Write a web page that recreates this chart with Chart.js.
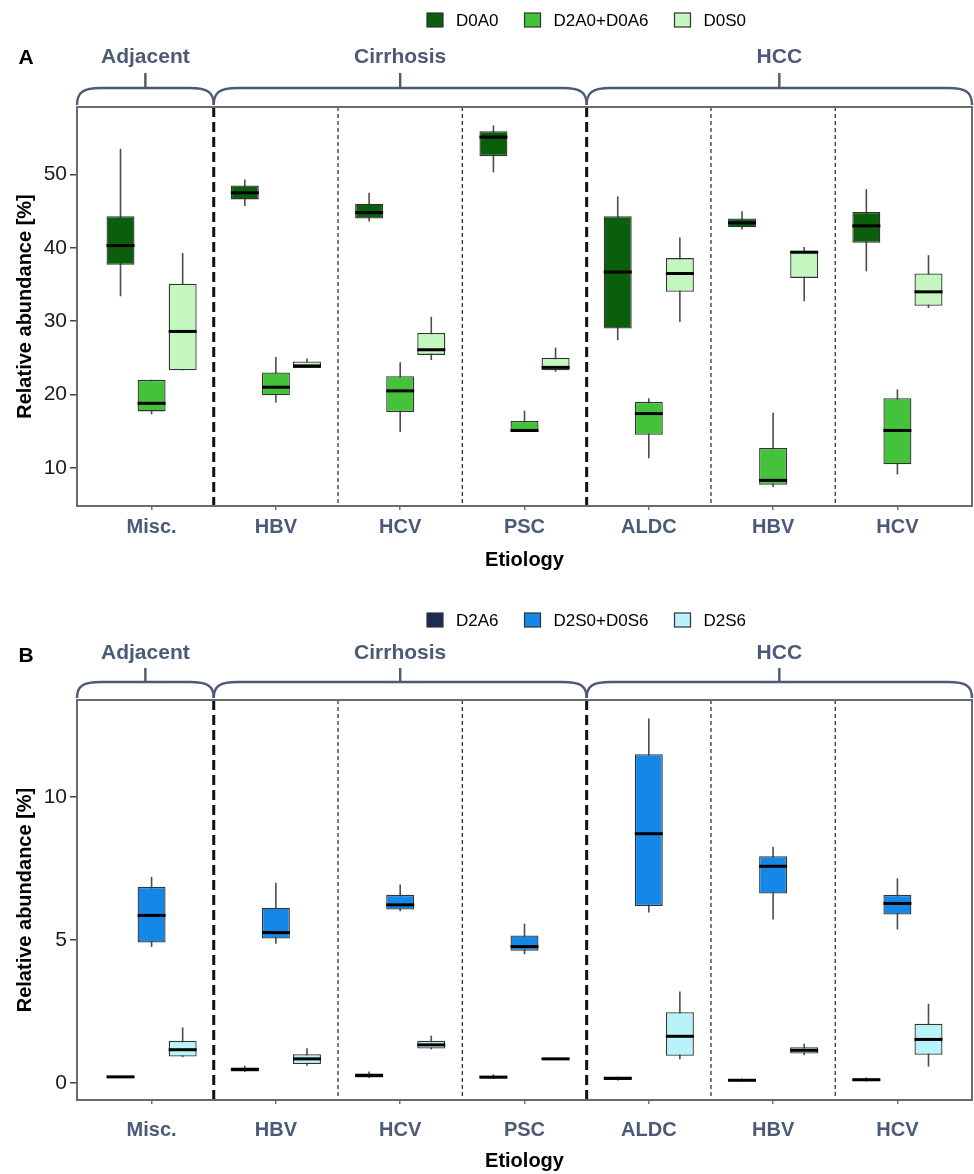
<!DOCTYPE html>
<html>
<head>
<meta charset="utf-8">
<title>Relative abundance by etiology</title>
<script src="https://cdn.jsdelivr.net/npm/chart.js@4.4.1/dist/chart.umd.min.js"></script>
<style>
  html, body { margin: 0; padding: 0; background: #fff; }
  #wrap { position: relative; width: 974px; height: 1174px; }
  canvas { position: absolute; left: 0; display: block; }
</style>
</head>
<body>
<div id="wrap">
  <canvas id="chartA" width="974" height="593" style="top:0"></canvas>
  <canvas id="chartB" width="974" height="581" style="top:593px"></canvas>
</div>
<script>
const categories = ['Misc.', 'HBV', 'HCV', 'PSC', 'ALDC', 'HBV', 'HCV'];
const groups = ['Adjacent', 'Cirrhosis', 'HCC'];
// first and last category (1-based) of each group
const groupSpans = [[1, 1], [2, 4], [5, 7]];

// each entry: [min, q1, median, q3, max]
const d0a0 = [
  [33.4, 37.7, 40.3, 44.3, 53.5],
  [45.7, 46.6, 47.5, 48.5, 49.3],
  [43.6, 44.0, 44.8, 46.0, 47.5],
  [50.3, 52.5, 55.1, 55.9, 56.7],
  [27.4, 29.0, 36.7, 44.3, 47.0],
  [42.5, 42.8, 43.4, 44.0, 45.0],
  [36.8, 40.7, 43.0, 44.9, 48.0]
];
const d2a0_d0a6 = [
  [17.3, 17.7, 18.8, 22.0, 22.0],
  [18.9, 19.9, 21.0, 23.0, 25.1],
  [14.9, 17.6, 20.5, 22.5, 24.4],
  [14.9, 14.9, 15.1, 16.4, 17.8],
  [11.3, 14.5, 17.4, 19.0, 19.5],
  [7.4, 7.7, 8.3, 12.7, 17.5],
  [9.1, 10.5, 15.1, 19.5, 20.7]
];
const d0s0 = [
  [23.3, 23.3, 28.6, 35.1, 39.3],
  [23.6, 23.6, 23.9, 24.5, 24.9],
  [24.7, 25.4, 26.1, 28.4, 30.6],
  [23.1, 23.3, 23.7, 25.0, 26.4],
  [29.9, 34.0, 36.5, 38.6, 41.4],
  [32.7, 35.9, 39.4, 39.6, 40.1],
  [31.8, 32.1, 34.0, 36.5, 39.0]
];

const d2a6 = [
  [0.18, 0.20, 0.21, 0.23, 0.24],
  [0.38, 0.40, 0.47, 0.54, 0.60],
  [0.17, 0.19, 0.26, 0.33, 0.40],
  [0.14, 0.15, 0.20, 0.25, 0.30],
  [0.08, 0.10, 0.16, 0.21, 0.22],
  [0.06, 0.07, 0.09, 0.10, 0.15],
  [0.05, 0.06, 0.11, 0.15, 0.19]
];
const d2s0_d0s6 = [
  [4.76, 4.91, 5.86, 6.86, 7.21],
  [4.87, 5.05, 5.26, 6.13, 7.00],
  [6.01, 6.07, 6.23, 6.58, 6.94],
  [4.50, 4.62, 4.77, 5.16, 5.57],
  [5.96, 6.19, 8.72, 11.50, 12.75],
  [5.72, 6.63, 7.58, 7.93, 8.26],
  [5.37, 5.89, 6.28, 6.58, 7.16]
];
const d2s6 = [
  [0.90, 0.92, 1.16, 1.47, 1.94],
  [0.60, 0.66, 0.84, 1.00, 1.21],
  [1.17, 1.20, 1.33, 1.47, 1.65],
  [0.80, 0.80, 0.84, 0.87, 0.87],
  [0.83, 0.95, 1.63, 2.47, 3.20],
  [0.97, 1.03, 1.14, 1.25, 1.37],
  [0.57, 0.98, 1.52, 2.07, 2.77]
];

const yTicksA = [10, 20, 30, 40, 50];
const yTicksB = [0, 5, 10];

const FONT = '"Liberation Sans", Arial, Helvetica, sans-serif';
const SLATE = '#4b5a77';

function makeDataset(label, stats, color) {
    return {
        label: label,
        stats: stats,
        data: stats.map((s, i) => ({ x: i + 1, y: [s[1], s[3]] })),
        backgroundColor: color,
        borderColor: '#333333',
        borderWidth: 1.3,
        borderSkipped: false,
        categoryPercentage: 0.75,
        barPercentage: 0.9
    };
}

// whiskers, medians, separators, border, brackets, legend, panel letter
const boxParts = {
    id: 'boxParts',
    beforeDatasetsDraw(chart) {
        const { ctx, chartArea: a, scales: { x, y } } = chart;
        ctx.save();

        // vertical separators between categories
        for (let c = 1; c < categories.length; c++) {
            const px = x.getPixelForValue(c + 0.5);
            const major = groupSpans.some(g => g[1] === c);
            ctx.beginPath();
            ctx.strokeStyle = major ? '#111' : '#333';
            ctx.lineWidth = major ? 3 : 1.3;
            ctx.setLineDash(major ? [10, 5] : [4, 3]);
            ctx.moveTo(px, a.top);
            ctx.lineTo(px, a.bottom);
            ctx.stroke();
        }
        ctx.setLineDash([]);

        // whiskers
        ctx.strokeStyle = '#4d4d4d';
        ctx.lineWidth = 1.6;
        chart.data.datasets.forEach((ds, di) => {
            chart.getDatasetMeta(di).data.forEach((bar, i) => {
                const s = ds.stats[i];
                ctx.beginPath();
                ctx.moveTo(bar.x, y.getPixelForValue(s[0]));
                ctx.lineTo(bar.x, y.getPixelForValue(s[4]));
                ctx.stroke();
            });
        });
        ctx.restore();
    },
    afterDatasetsDraw(chart) {
        const { ctx, chartArea: a, scales: { x, y } } = chart;
        const p = chart.options.plugins.boxParts;
        ctx.save();

        // medians
        ctx.strokeStyle = '#000';
        ctx.lineWidth = 3;
        chart.data.datasets.forEach((ds, di) => {
            chart.getDatasetMeta(di).data.forEach((bar, i) => {
                const py = y.getPixelForValue(ds.stats[i][2]);
                ctx.beginPath();
                ctx.moveTo(bar.x - bar.width / 2, py);
                ctx.lineTo(bar.x + bar.width / 2, py);
                ctx.stroke();
            });
        });

        // panel border
        ctx.strokeStyle = '#6b6b6b';
        ctx.lineWidth = 2;
        ctx.strokeRect(a.left, a.top, a.right - a.left, a.bottom - a.top);

        // curly brackets over the groups
        const y0 = p.braceY;
        const h = a.top - 2 - y0;
        const r = 24;
        ctx.strokeStyle = SLATE;
        ctx.lineWidth = 2.4;
        ctx.fillStyle = SLATE;
        ctx.font = 'bold 21px ' + FONT;
        ctx.textAlign = 'center';
        ctx.textBaseline = 'middle';
        groupSpans.forEach((g, gi) => {
            const xa = x.getPixelForValue(gi === 0 ? x.min : g[0] - 0.5);
            const xb = x.getPixelForValue(gi === groupSpans.length - 1 ? x.max : g[1] + 0.5);
            const xc = (xa + xb) / 2;
            ctx.beginPath();
            ctx.moveTo(xa, y0 + h);
            ctx.bezierCurveTo(xa, y0 + h * 0.25, xa + r * 0.25, y0, xa + r, y0);
            ctx.lineTo(xb - r, y0);
            ctx.bezierCurveTo(xb - r * 0.25, y0, xb, y0 + h * 0.25, xb, y0 + h);
            ctx.moveTo(xc, y0);
            ctx.lineTo(xc, p.braceTickY);
            ctx.stroke();
            ctx.fillText(groups[gi], xc, p.groupLabelY);
        });

        // panel letter
        ctx.fillStyle = '#000';
        ctx.font = 'bold 21px ' + FONT;
        ctx.fillText(p.letter, 26, p.letterY);

        // legend
        ctx.font = '17px ' + FONT;
        ctx.textAlign = 'left';
        let lx = p.legendX;
        chart.data.datasets.forEach(ds => {
            ctx.fillStyle = ds.backgroundColor;
            ctx.fillRect(lx, p.legendY - 7, 16, 14);
            ctx.strokeStyle = '#333';
            ctx.lineWidth = 1.2;
            ctx.strokeRect(lx, p.legendY - 7, 16, 14);
            ctx.fillStyle = '#000';
            ctx.fillText(ds.label, lx + 29, p.legendY + 1);
            lx += 29 + ctx.measureText(ds.label).width + 26;
        });
        ctx.restore();
    }
};

function makePanel(canvasId, datasets, yMin, yMax, yTicks, p) {
    const canvas = document.getElementById(canvasId);
    return new Chart(canvas, {
        type: 'bar',
        data: { datasets: datasets },
        options: {
            responsive: false,
            animation: false,
            layout: { padding: { top: 107, right: 2, left: 0, bottom: 0 } },
            plugins: {
                legend: { display: false },
                tooltip: { enabled: false },
                boxParts: p
            },
            scales: {
                x: {
                    type: 'linear',
                    min: 0.4,
                    max: 7.6,
                    offset: false,
                    afterBuildTicks: s => { s.ticks = categories.map((c, i) => ({ value: i + 1 })); },
                    afterFit: s => { s.height = canvas.height - p.plotBottom; },
                    grid: { offset: false, drawOnChartArea: false, drawTicks: true, tickLength: 4, color: '#777', lineWidth: 1.5 },
                    border: { display: false },
                    ticks: {
                        autoSkip: false,
                        maxRotation: 0,
                        padding: p.xTickPad,
                        color: SLATE,
                        font: { family: FONT, size: 20, weight: 'bold' },
                        callback: v => categories[Math.round(v) - 1]
                    },
                    title: {
                        display: true,
                        text: 'Etiology',
                        color: '#000',
                        font: { family: FONT, size: 20, weight: 'bold' },
                        padding: { top: 0, bottom: p.xTitlePad }
                    }
                },
                y: {
                    min: yMin,
                    max: yMax,
                    afterBuildTicks: s => { s.ticks = yTicks.map(v => ({ value: v })); },
                    afterFit: s => { s.width = 77; },
                    grid: { drawOnChartArea: false, drawTicks: true, tickLength: 7, color: '#444', lineWidth: 1.5 },
                    border: { display: false },
                    ticks: {
                        padding: 3,
                        color: '#1a1a1a',
                        font: { family: FONT, size: 21 }
                    },
                    title: {
                        display: true,
                        text: 'Relative abundance [%]',
                        color: '#000',
                        font: { family: FONT, size: 20, weight: 'bold' },
                        padding: { top: 13, bottom: 0 }
                    }
                }
            }
        },
        plugins: [boxParts]
    });
}

makePanel('chartA', [
    makeDataset('D0A0', d0a0, '#0b5e0b'),
    makeDataset('D2A0+D0A6', d2a0_d0a6, '#44c23a'),
    makeDataset('D0S0', d0s0, '#c4f6c0')
], 4.8, 59.2, yTicksA, {
    letter: 'A', letterY: 58, legendX: 427, legendY: 20,
    groupLabelY: 57, braceY: 88, braceTickY: 73,
    plotBottom: 506, xTickPad: 5, xTitlePad: 21
});

makePanel('chartB', [
    makeDataset('D2A6', d2a6, '#1c2c52'),
    makeDataset('D2S0+D0S6', d2s0_d0s6, '#1587e6'),
    makeDataset('D2S6', d2s6, '#b7f3f8')
], -0.6, 13.4, yTicksB, {
    letter: 'B', letterY: 63, legendX: 427, legendY: 27,
    groupLabelY: 60, braceY: 89, braceTickY: 75,
    plotBottom: 507, xTickPad: 14, xTitlePad: 1
});
</script>
</body>
</html>
